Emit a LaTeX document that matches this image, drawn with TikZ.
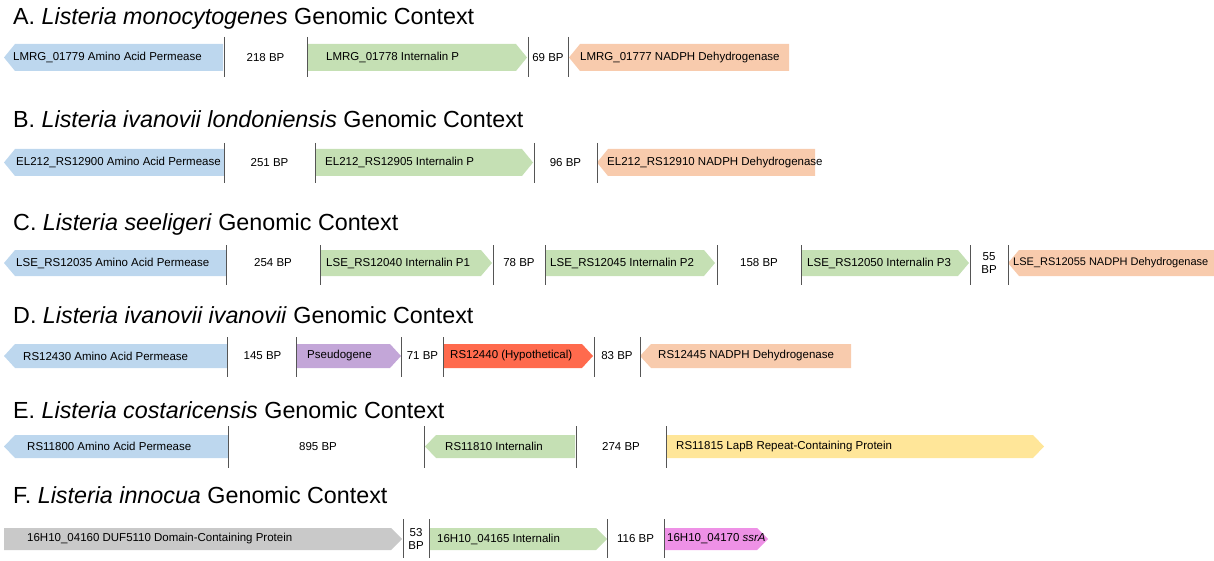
\documentclass[tikz,border=0pt]{standalone}
\usepackage{fontspec}
\setmainfont{Liberation Sans}
\usetikzlibrary{positioning}
\definecolor{permease}{HTML}{BDD7EE}
\definecolor{internalin}{HTML}{C5E0B4}
\definecolor{nadph}{HTML}{F8CBAD}
\definecolor{pseudo}{HTML}{C3A6D8}
\definecolor{hypo}{HTML}{FF6A4D}
\definecolor{lapb}{HTML}{FFE699}
\definecolor{duf}{HTML}{C9C9C9}
\definecolor{ssra}{HTML}{EE91E6}
\definecolor{sepgray}{HTML}{555555}
\tikzset{
    genetext/.style={anchor=west,inner sep=0pt,font=\fontsize{11.5}{13.5}\selectfont},
    bptext/.style={align=center,inner sep=0pt,font=\fontsize{11.5}{13.5}\selectfont},
    rowtitle/.style={anchor=base west,inner sep=0pt,font=\fontsize{23.3}{27}\selectfont},
    sep/.style={draw=sepgray,line width=1pt}
}
% #1 start, #2 end, #3 middle y, #4 height, #5 colour
\newcommand{\generight}[5]{\fill[#5] (#1,#3-#4/2) -- (#2-11,#3-#4/2) -- (#2,#3) -- (#2-11,#3+#4/2) -- (#1,#3+#4/2) -- cycle;}
\newcommand{\geneleft}[5]{\fill[#5] (#1,#3) -- (#1+11,#3-#4/2) -- (#2,#3-#4/2) -- (#2,#3+#4/2) -- (#1+11,#3+#4/2) -- cycle;}

\begin{document}
\begin{tikzpicture}[x=1pt,y=-1pt]
    \useasboundingbox (0,0) rectangle (1214,561);

    % A
    \node[rowtitle] (titleA) at (13,25) {A. \textit{Listeria monocytogenes} Genomic Context};
    \geneleft{4}{223}{57.5}{27}{permease}
    \generight{307}{527}{57.5}{27}{internalin}
    \geneleft{569}{789}{57.5}{27}{nadph}
    \foreach \x in {224,307,528,568}
        \draw[sep] (\x,37) -- (\x,77);
    \node[genetext] (a1) at (13,57.5) {LMRG\_01779 Amino Acid Permease};
    \node[bptext] (abp1) at (265.5,57.5) {218 BP};
    \node[genetext] (a2) at (326,57.5) {LMRG\_01778 Internalin P};
    \node[bptext] (abp2) at (548,57.5) {69 BP};
    \node[genetext] (a3) at (580,57.5) {LMRG\_01777 NADPH Dehydrogenase};

    % B
    \node[rowtitle] (titleB) at (13,128) {B. \textit{Listeria ivanovii londoniensis} Genomic Context};
    \geneleft{4}{224}{162.5}{27}{permease}
    \generight{315}{533}{162.5}{27}{internalin}
    \geneleft{597}{815}{162.5}{27}{nadph}
    \foreach \x in {224,315,534,597}
        \draw[sep] (\x,143) -- (\x,183);
    \node[genetext] (b1) at (16,162.5) {EL212\_RS12900 Amino Acid Permease};
    \node[bptext] (bbp1) at (269.5,162.5) {251 BP};
    \node[genetext] (b2) at (325,162.5) {EL212\_RS12905 Internalin P};
    \node[bptext] (bbp2) at (565.5,162.5) {96 BP};
    \node[genetext] (b3) at (607,162.5) {EL212\_RS12910 NADPH Dehydrogenase};

    % C
    \node[rowtitle] (titleC) at (13,231) {C. \textit{Listeria seeligeri} Genomic Context};
    \geneleft{4}{226}{263}{26}{permease}
    \generight{320}{492}{263}{26}{internalin}
    \generight{545}{715}{263}{26}{internalin}
    \generight{801}{969}{263}{26}{internalin}
    \geneleft{1008}{1214}{263}{26}{nadph}
    \foreach \x in {226,320,493,545,717,801,970,1008}
        \draw[sep] (\x,245) -- (\x,285);
    \node[genetext] (c1) at (16,263) {LSE\_RS12035 Amino Acid Permease};
    \node[bptext] (cbp1) at (273,263) {254 BP};
    \node[genetext] (c2) at (326,263) {LSE\_RS12040 Internalin P1};
    \node[bptext] (cbp2) at (519,263) {78 BP};
    \node[genetext] (c3) at (550,263) {LSE\_RS12045 Internalin P2};
    \node[bptext] (cbp3) at (759,263) {158 BP};
    \node[genetext] (c4) at (807,263) {LSE\_RS12050 Internalin P3};
    \node[bptext] (cbp4) at (989,263) {55\\BP};
    \node[genetext,font=\fontsize{11}{13}\selectfont] (c5) at (1013,263) {LSE\_RS12055 NADPH Dehydrogenase};

    % D
    \node[rowtitle] (titleD) at (13,323) {D. \textit{Listeria ivanovii ivanovii} Genomic Context};
    \geneleft{4}{227}{356}{24}{permease}
    \generight{296}{401}{356}{24}{pseudo}
    \generight{443}{593}{356}{24}{hypo}
    \geneleft{640}{851}{356}{24}{nadph}
    \foreach \x in {227,296,401,443,594,640}
        \draw[sep] (\x,337) -- (\x,377);
    \node[genetext] (d1) at (23,356) {RS12430 Amino Acid Permease};
    \node[bptext] (dbp1) at (262.5,356) {145 BP};
    \node[genetext] (d2) at (307,356) {Pseudogene};
    \node[bptext] (dbp2) at (422.5,356) {71 BP};
    \node[genetext] (d3) at (450,356) {RS12440 (Hypothetical)};
    \node[bptext] (dbp3) at (617,356) {83 BP};
    \node[genetext] (d4) at (658,356) {RS12445 NADPH Dehydrogenase};

    % E
    \node[rowtitle] (titleE) at (13,418) {E. \textit{Listeria costaricensis} Genomic Context};
    \geneleft{4}{228}{446.5}{23}{permease}
    \geneleft{425}{575}{446.5}{23}{internalin}
    \generight{667}{1044}{446.5}{23}{lapb}
    \foreach \x in {228,424,576,666}
        \draw[sep] (\x,426) -- (\x,468);
    \node[genetext] (e1) at (27,446.5) {RS11800 Amino Acid Permease};
    \node[bptext] (ebp1) at (318,446.5) {895 BP};
    \node[genetext] (e2) at (445,446.5) {RS11810 Internalin};
    \node[bptext] (ebp2) at (621,446.5) {274 BP};
    \node[genetext] (e3) at (676,446.5) {RS11815 LapB Repeat-Containing Protein};

    % F
    \node[rowtitle] (titleF) at (13,503) {F. \textit{Listeria innocua} Genomic Context};
    \generight{4}{402}{539}{22}{duf}
    \generight{429}{607}{539}{22}{internalin}
    \generight{665}{768}{539}{22}{ssra}
    \foreach \x in {403,429,607,664}
        \draw[sep] (\x,519) -- (\x,558);
    \node[genetext] (f1) at (27,539) {16H10\_04160 DUF5110 Domain-Containing Protein};
    \node[bptext] (fbp1) at (416,539) {53\\BP};
    \node[genetext] (f2) at (437,539) {16H10\_04165 Internalin};
    \node[bptext] (fbp2) at (635.5,539) {116 BP};
    \node[genetext] (f3) at (667,539) {16H10\_04170 \textit{ssrA}};
\end{tikzpicture}
\end{document}
